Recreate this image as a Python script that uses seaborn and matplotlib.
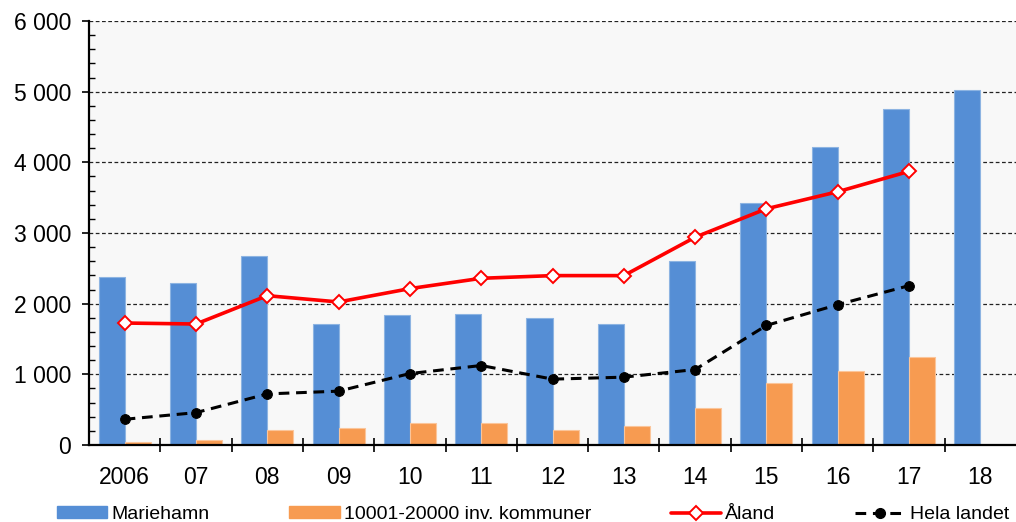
import numpy as np
import pandas as pd
import matplotlib
matplotlib.use("Agg")
import matplotlib.pyplot as plt
from matplotlib.patches import Patch
from matplotlib.lines import Line2D
from matplotlib.ticker import MultipleLocator, FixedLocator
import seaborn as sns

# --- data ---
years = ["2006", "07", "08", "09", "10", "11", "12", "13", "14", "15", "16", "17", "18"]
mariehamn = [2373, 2298, 2681, 1707, 1840, 1858, 1801, 1707, 2600, 3423, 4223, 4756, 5026]
kommuner = [45, 64, 215, 234, 309, 309, 215, 272, 518, 877, 1052, 1241, np.nan]
aland = [1726, 1712, 2113, 2024, 2213, 2359, 2397, 2397, 2940, 3343, 3584, 3872, np.nan]
hela_landet = [364, 458, 723, 762, 1011, 1125, 932, 960, 1068, 1692, 1986, 2255, np.nan]

bar_names = ["Mariehamn", "10001-20000 inv. kommuner"]
blue = "#558ED5"
orange = "#F79B51"

sns.set_theme(style="white")
plt.rcParams["font.family"] = ["Liberation Sans", "DejaVu Sans"]

bars = pd.DataFrame({
    "year": years * 2,
    "value": mariehamn + kommuner,
    "series": [bar_names[0]] * len(years) + [bar_names[1]] * len(years),
})

fig = plt.figure(figsize=(10.16, 5.22), dpi=100)
ax = fig.add_axes([0.0876, 0.1475, 0.9124, 0.8123])
ax.set_facecolor("#F8F8F8")

sns.barplot(data=bars, x="year", y="value", hue="series", hue_order=bar_names,
            palette=[blue, orange], saturation=1, width=0.73, errorbar=None, ax=ax,
            linewidth=0.8, legend=False, zorder=2)
for p, ec in zip(ax.patches, ["#8DB4E2"] * 13 + ["#FBC59A"] * 13):
    p.set_edgecolor(ec)

xpos = np.arange(len(years))
sns.lineplot(x=xpos, y=aland, color="#FF0000", linewidth=2.6, marker="D",
             markersize=7.5, markerfacecolor="white", markeredgecolor="#FF0000",
             markeredgewidth=1.4, ax=ax, zorder=4)
sns.lineplot(x=xpos, y=hela_landet, color="black", linewidth=2.2, linestyle=(0, (3.5, 2.2)),
             marker="o", markersize=7, markerfacecolor="black", markeredgecolor="black",
             ax=ax, zorder=4)

ax.set_xlim(-0.5, len(years) - 0.5)
ax.set_ylim(0, 6000)
ax.set_xlabel("")
ax.set_ylabel("")

# y axis: major every 1000 with dashed grid, minor every 200 inside
ax.yaxis.set_minor_locator(MultipleLocator(200))
ax.set_yticks(np.arange(0, 6001, 1000))
ax.set_yticklabels([f"{v:,}".replace(",", " ") for v in range(0, 6001, 1000)])
ax.grid(axis="y", which="major", color="#222222", linestyle=(0, (3, 2)), linewidth=0.9, zorder=0)
ax.set_axisbelow(True)

# x axis: labels at group centres, ticks at group boundaries
ax.set_xticks(xpos)
ax.set_xticklabels(years)
ax.xaxis.set_minor_locator(FixedLocator(np.arange(0.5, len(years) - 1, 1.0)))

ax.tick_params(axis="y", which="major", direction="out", length=5, width=1.2,
               color="black", labelsize=16.5, pad=8, left=True, labelcolor="black")
ax.tick_params(axis="y", which="minor", direction="in", length=4, width=1.0,
               color="black", left=True)
ax.tick_params(axis="x", which="major", length=0, labelsize=16.5, pad=15, bottom=True,
               labelcolor="black")
ax.tick_params(axis="x", which="minor", direction="inout", length=10, width=1.2,
               color="black", bottom=True)

for s in ["top", "right"]:
    ax.spines[s].set_visible(False)
for s in ["left", "bottom"]:
    ax.spines[s].set_color("black")
    ax.spines[s].set_linewidth(1.6)

handles = [
    Patch(facecolor=blue, edgecolor=blue),
    Patch(facecolor=orange, edgecolor=orange),
    Line2D([], [], color="#FF0000", linewidth=2.6, marker="D", markersize=7.5,
           markerfacecolor="white", markeredgecolor="#FF0000", markeredgewidth=1.4),
    Line2D([], [], color="black", linewidth=2.2, linestyle=(0, (3.5, 2.2)), marker="o",
           markersize=7),
]
labels = bar_names + ["Åland", "Hela landet"]
fig.legend(handles, labels, loc="lower left", bbox_to_anchor=(0.055, -0.004), ncol=4,
           frameon=False, fontsize=14, handlelength=2.6, handleheight=0.6,
           handletextpad=0.2, columnspacing=4.1, borderaxespad=0, borderpad=0.05,
           labelcolor="black")

fig.savefig("out.png", dpi=100, facecolor="white")
